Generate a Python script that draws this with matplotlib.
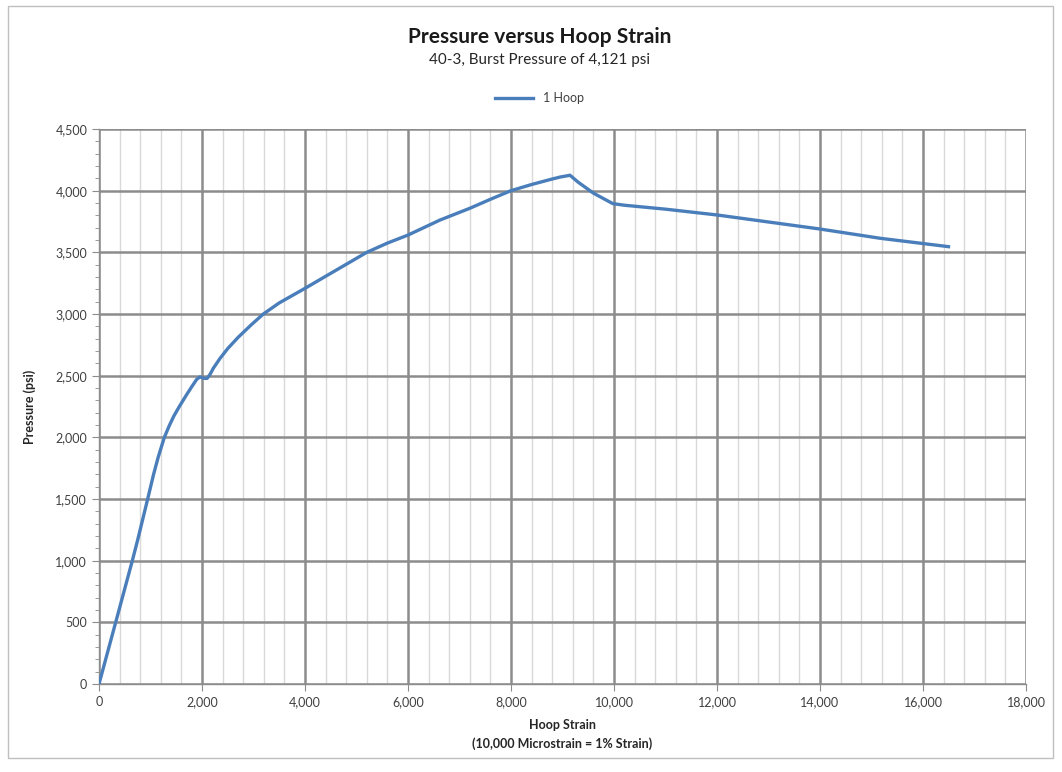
import matplotlib
matplotlib.use("Agg")
from matplotlib import pyplot as plt
from matplotlib.ticker import MultipleLocator, FuncFormatter
from matplotlib.patches import Rectangle

# strain (microstrain) vs pressure (psi)
strain = [0, 324, 647, 751, 945, 1060, 1150, 1269, 1360, 1450, 1560, 1700,
          1800, 1897, 1960, 2040, 2100, 2155, 2220, 2350, 2500, 2700, 2950,
          3191, 3500, 4000, 4500, 5200, 5600, 6000, 6622, 7200, 7600, 8000,
          8400, 8759, 8950, 9146, 9300, 9600, 9977, 10200, 10500, 11000,
          12000, 14000, 15167, 16495]
pressure = [0, 500, 1000, 1168, 1500, 1700, 1840, 2000, 2090, 2170, 2250, 2345,
            2410, 2470, 2490, 2478, 2478, 2510, 2560, 2640, 2720, 2810, 2910,
            3000, 3090, 3208, 3330, 3500, 3575, 3640, 3762, 3857, 3930, 4000,
            4050, 4090, 4110, 4125, 4070, 3980, 3895, 3882, 3870, 3850,
            3803, 3689, 3614, 3546]

title = "Pressure versus Hoop Strain"
subtitle = "40-3, Burst Pressure of 4,121 psi"
series_name = "1 Hoop"

plt.rcParams['font.family'] = ['Lato', 'DejaVu Sans']

fig = plt.figure(figsize=(10.62, 7.72), dpi=100)
ax = fig.add_axes([99 / 1062, 88 / 772, 927 / 1062, 555 / 772])

line_col = "#4A7EBB"
major_col = "#8C8C8C"
minor_col = "#D9D9D9"
text_col = "#404040"

ax.plot(strain, pressure, color=line_col, lw=2.4, label=series_name, zorder=3,
        solid_joinstyle='round')

ax.set_xlim(0, 18000)
ax.set_ylim(0, 4500)
ax.xaxis.set_major_locator(MultipleLocator(2000))
ax.xaxis.set_minor_locator(MultipleLocator(400))
ax.yaxis.set_major_locator(MultipleLocator(500))
ax.yaxis.set_minor_locator(MultipleLocator(100))
fmt = FuncFormatter(lambda v, p: f"{int(v):,}")
ax.xaxis.set_major_formatter(fmt)
ax.yaxis.set_major_formatter(fmt)

ax.grid(True, which='major', color=major_col, lw=1.8, zorder=1)
ax.grid(True, which='minor', axis='x', color=minor_col, lw=1.0, zorder=0)
ax.set_axisbelow(True)

for s in ['top', 'right']:
    ax.spines[s].set_visible(False)
for s in ['left', 'bottom']:
    ax.spines[s].set_color(major_col)
    ax.spines[s].set_linewidth(1.0)

ax.tick_params(which='major', length=5, color=major_col, labelsize=9,
               labelcolor=text_col)
ax.tick_params(which='minor', length=3, color=major_col)
ax.tick_params(axis='x', which='minor', length=0)

ax.set_xlabel("Hoop Strain\n(10,000 Microstrain = 1% Strain)", fontsize=9,
              fontweight='bold', color='#262626', labelpad=8, linespacing=1.6)
ax.set_ylabel("Pressure (psi)", fontsize=9, fontweight='bold', color='#262626',
              labelpad=14)

fig.text(0.508, 0.952, title, ha='center', va='center', fontsize=15,
         fontweight='bold', color='#1a1a1a')
fig.text(0.508, 0.922, subtitle, ha='center', va='center', fontsize=11,
         color='#262626')

ax.legend(loc='center', bbox_to_anchor=(0.475, 1.055), frameon=False,
          fontsize=9, handlelength=3.0, labelcolor=text_col)

# outer chart frame
fig.patches.append(Rectangle((8 / 1062, 14 / 772), 1045 / 1062, 752 / 772,
                             transform=fig.transFigure, fill=False,
                             edgecolor='#BFBFBF', lw=1.0))

fig.savefig("out.png", dpi=100)
